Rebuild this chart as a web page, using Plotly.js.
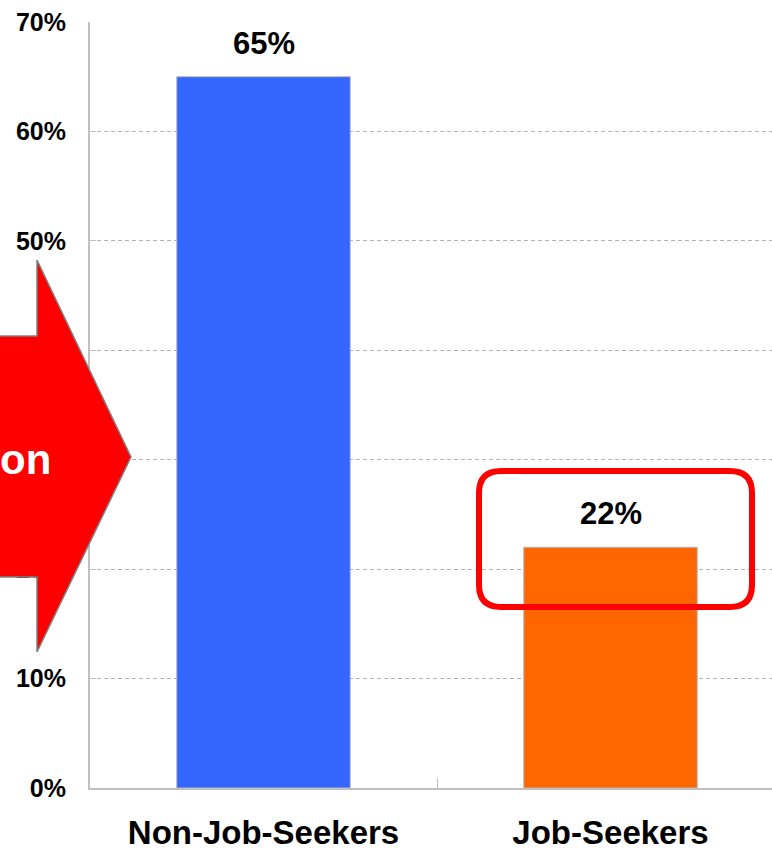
<!DOCTYPE html>
<html>
<head>
<meta charset="utf-8">
<script src="https://cdn.plot.ly/plotly-3.0.1.min.js"></script>
<style>
html,body{margin:0;padding:0;overflow:hidden;background:#fff;width:772px;height:848px;}
#chart{width:790px;height:848px;}
</style>
</head>
<body>
<div id="chart"></div>
<script>
// ---- data ----
const categories = ["Non-Job-Seekers", "Job-Seekers"];
const values = [65, 22];
const barColors = ["#3366FF", "#FF6600"];
const yTickValues = [0, 10, 20, 30, 40, 50, 60, 70];
const yTickLabels = ["0%", "10%", "20%", "30%", "40%", "50%", "60%", "70%"];
const arrowText = "on";

// ---- geometry helpers (plot area in pixels) ----
const W = 790, H = 848;
const L = 90, R = 6, T = 22, B = 60;
const PW = W - L - R, PH = H - T - B;
const px = x => (x - L) / PW;          // pixel x -> paper x
const py = y => (H - B - y) / PH;      // pixel y -> paper y

function pathFrom(points) {
  return points.map((p, i) => (i === 0 ? "M" : "L") + px(p[0]).toFixed(5) + "," + py(p[1]).toFixed(5)).join(" ") + " Z";
}
// arrow shape (pixel outline)
const arrowPath = pathFrom([[-10, 336], [37, 336], [37, 260], [131, 457], [37, 652], [37, 577], [-10, 577]]);

// rounded rectangle (pixel centerline)
function roundRect(x0, y0, x1, y1, r) {
  const P = (x, y) => px(x).toFixed(5) + "," + py(y).toFixed(5);
  return "M" + P(x0 + r, y0) + " L" + P(x1 - r, y0) + " Q" + P(x1, y0) + " " + P(x1, y0 + r) +
    " L" + P(x1, y1 - r) + " Q" + P(x1, y1) + " " + P(x1 - r, y1) +
    " L" + P(x0 + r, y1) + " Q" + P(x0, y1) + " " + P(x0, y1 - r) +
    " L" + P(x0, y0 + r) + " Q" + P(x0, y0) + " " + P(x0 + r, y0) + " Z";
}
const boxPath = roundRect(479, 471, 752, 607, 22);

const FONT = "Arial, 'Liberation Sans', Helvetica, sans-serif";

const trace = {
  type: "bar",
  x: categories,
  y: values,
  width: 0.5,
  marker: { color: barColors, line: { color: "#b8b8b8", width: 1 } },
  hoverinfo: "none"
};

const labelAnnotations = categories.map((c, i) => ({
  x: c, y: values[i], xref: "x", yref: "y",
  text: values[i] + "%", showarrow: false,
  xanchor: "center", yanchor: "bottom", yshift: 14,
  font: { family: FONT, size: 31, color: "#000", weight: "bold" }
}));

const layout = {
  width: W, height: H,
  margin: { l: L, r: R, t: T, b: B, pad: 0 },
  paper_bgcolor: "#ffffff",
  plot_bgcolor: "#ffffff",
  showlegend: false,
  bargap: 0.5,
  xaxis: {
    type: "category",
    range: [-0.5, 1.5],
    showline: true, linecolor: "#c0c0c0", linewidth: 2,
    showgrid: false,
    ticks: "inside", tickson: "boundaries", ticklen: 10, tickcolor: "#c0c0c0", tickwidth: 1,
    tickfont: { family: FONT, size: 33, color: "#000", weight: "bold" },
    ticklabelstandoff: 14,
    fixedrange: true
  },
  yaxis: {
    range: [0, 70],
    tickmode: "array",
    tickvals: yTickValues,
    ticktext: yTickLabels,
    showline: true, linecolor: "#c0c0c0", linewidth: 2,
    showgrid: true, gridcolor: "#b4b4b4", gridwidth: 1, griddash: "4px,3px",
    zeroline: false,
    ticks: "inside", ticklen: 6, tickcolor: "#c0c0c0", tickwidth: 1,
    tickfont: { family: FONT, size: 25, color: "#000", weight: "bold" },
    ticklabelstandoff: 17,
    fixedrange: true
  },
  shapes: [
    {
      type: "path", xref: "paper", yref: "paper", layer: "above",
      path: arrowPath,
      fillcolor: "#FF0000", line: { color: "#808080", width: 1.5 }
    },
    {
      type: "path", xref: "paper", yref: "paper", layer: "above",
      path: boxPath,
      fillcolor: "rgba(0,0,0,0)", line: { color: "#FF0000", width: 6 }
    }
  ],
  annotations: labelAnnotations.concat([{
    xref: "paper", yref: "paper",
    x: px(53), y: py(459),
    xanchor: "right", yanchor: "middle",
    text: arrowText, showarrow: false,
    font: { family: FONT, size: 42, color: "#ffffff", weight: "bold" }
  }])
};

Plotly.newPlot("chart", [trace], layout, { displayModeBar: false, staticPlot: true });
</script>
</body>
</html>
